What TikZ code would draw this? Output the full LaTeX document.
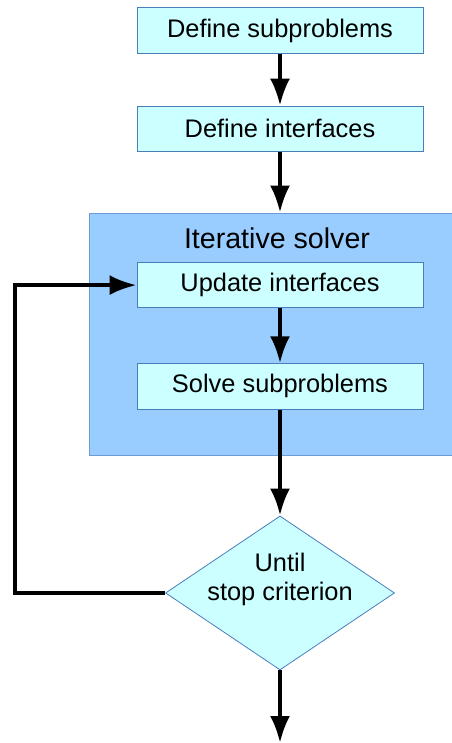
\documentclass[tikz,border=0pt]{standalone}
\usepackage{fontspec}
\setmainfont{Liberation Sans}
\usetikzlibrary{shapes.geometric,arrows.meta,positioning}
\definecolor{stepfill}{HTML}{CCFFFF}
\definecolor{stepline}{HTML}{4A7EBB}
\definecolor{solverfill}{HTML}{99CCFF}
\definecolor{solverline}{HTML}{6F9AD8}
\tikzset
{
  stepbox/.style  = {rectangle, draw=stepline, line width=0.8pt, fill=stepfill, align=center, minimum width=286pt, minimum height=45.5pt, inner sep=0pt, font=\fontsize{25.4}{29}\selectfont},
  decision/.style = {diamond, draw=stepline, line width=0.8pt, fill=stepfill, minimum width=229pt, minimum height=154pt, inner sep=0pt},
  solverbox/.style = {rectangle, draw=solverline, line width=0.8pt, fill=solverfill, minimum width=366pt, minimum height=242pt},
  flow/.style     = {line width=4pt, -{Latex[length=27pt,width=20pt]}}
}

\begin{document}
\begin{tikzpicture}[x=1pt,y=-1pt,node distance=52pt]
            \useasboundingbox (0,0) rectangle (451,743);
            % background of the loop
            \node [solverbox] (solver) at (272,334) {};
            \node [font=\fontsize{28.6}{32}\selectfont] (title) at (277,238) {Iterative solver};
            % steps
            \node [stepbox] (subprob) at (280,30.5) {Define subproblems};
            \node [stepbox, below=of subprob] (interf) {Define interfaces};
            \node [stepbox, below=110pt of interf] (update) {Update interfaces};
            \node [stepbox, below=55pt of update] (solve) {Solve subproblems};
            \node [decision, below=106pt of solve] (stop) {};
            \node [align=center, font=\fontsize{25.4}{29}\selectfont] (stoplbl) at ([yshift=14pt]stop.center) {Until\\stop criterion};
            \coordinate (loopx) at (15,0);
            \coordinate (out) at (280,743);
            % connectors
            \draw [flow] (subprob) -- (interf);
            \draw [flow] (interf.south) -- (interf.south |- solver.north);
            \draw [flow] (update) -- (solve);
            \draw [flow] (solve) -- (stop);
            \draw [flow] (stop.west) -| (loopx |- update.west) -- (update.west);
            \draw [flow] (stop.south) -- (out);
          \end{tikzpicture}
\end{document}
